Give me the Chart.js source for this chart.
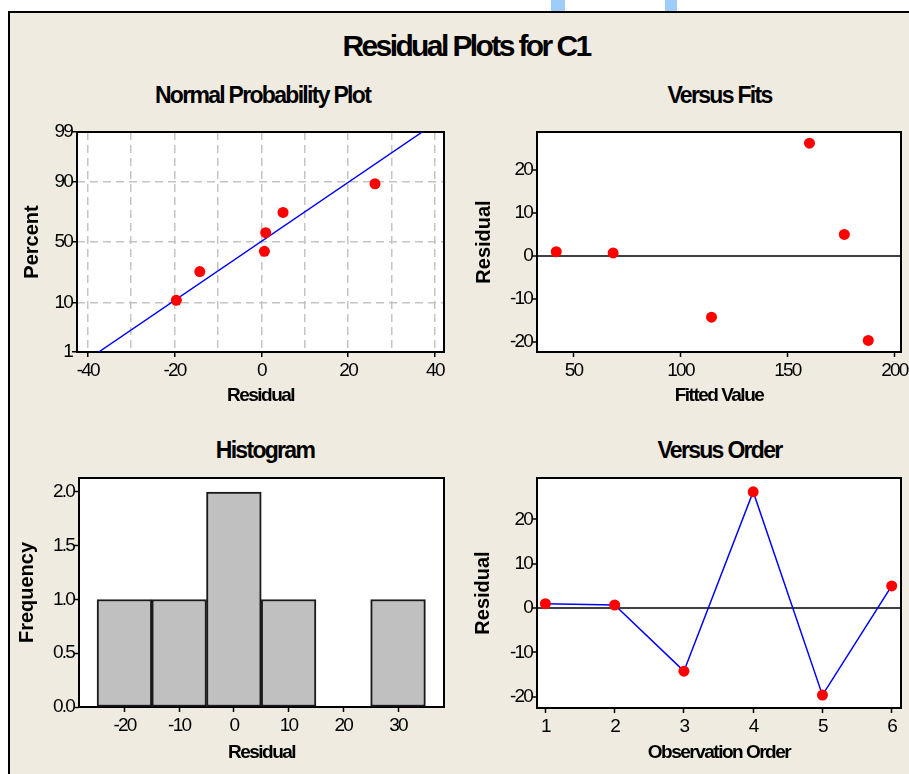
<!DOCTYPE html>
<html>
<head>
<meta charset="utf-8">
<script src="https://cdn.jsdelivr.net/npm/chart.js@4.4.1/dist/chart.umd.min.js"></script>
<style>
  html, body { margin: 0; padding: 0; background: #fff; width: 909px; height: 774px; overflow: hidden; }
  #frame { position: absolute; left: 8px; top: 11px; width: 920px; height: 780px;
           border-top: 2px solid #000; border-left: 2px solid #000; background: rgb(239,235,225); }
  .blob { position: absolute; top: 0; height: 11px; background: #9fcdfb; }
  .ttl { position: absolute; font-family: "Liberation Sans", Arial, sans-serif;
         font-weight: bold; color: #000; white-space: nowrap; text-align: center; }
  .main { font-size: 30px; line-height: 30px; letter-spacing: -2.6px; }
  .sub { font-size: 23px; line-height: 23px; letter-spacing: -1.7px; }
  canvas { position: absolute; }
</style>
</head>
<body>
<div class="blob" style="left:551px;width:14px;"></div>
<div class="blob" style="left:665px;width:12px;"></div>
<div id="frame"></div>

<div class="ttl main" style="left:266px;top:31.4px;width:400px;">Residual Plots for C1</div>
<div class="ttl sub" style="left:112.5px;top:84.3px;width:300px;">Normal Probability Plot</div>
<div class="ttl sub" style="left:569.5px;top:84.3px;width:300px;">Versus Fits</div>
<div class="ttl sub" style="left:115px;top:439.3px;width:300px;">Histogram</div>
<div class="ttl sub" style="left:569.5px;top:439.3px;width:300px;">Versus Order</div>

<canvas id="cNpp" width="455" height="300" style="left:0;top:110px;"></canvas>
<canvas id="cFits" width="449" height="300" style="left:460px;top:110px;"></canvas>
<canvas id="cHist" width="455" height="314" style="left:0;top:460px;"></canvas>
<canvas id="cOrder" width="449" height="314" style="left:460px;top:460px;"></canvas>

<script>
// ---------- ข้อมูล (อ่านจากภาพ) ----------
const observationOrder = [1, 2, 3, 4, 5, 6];
const residuals = [1.0, 0.7, -14.2, 26.2, -19.6, 5.0];
const fittedValues = [41.9, 68.5, 114.5, 160.3, 187.8, 176.6];
const probPercents = [10.9, 26.6, 42.2, 57.8, 73.4, 89.1];   // median rank ของ residual ที่เรียงแล้ว
const fitLineResidual = [-37.5, 37.1];
const fitLinePercent = [1, 99];
const histBinCenters = [-20, -10, 0, 10, 20, 30];
const histCounts = [1, 1, 2, 1, 0, 1];

// tick labels
const nppPercentTicks = [1, 10, 50, 90, 99];
const nppResidualTicks = [-40, -30, -20, -10, 0, 10, 20, 30, 40];
const fitsTicks = [50, 100, 150, 200];
const residualTicks = [-20, -10, 0, 10, 20];
const histXTicks = [-20, -10, 0, 10, 20, 30];
const freqTicks = [0, 0.5, 1.0, 1.5, 2.0];
const orderTicks = [1, 2, 3, 4, 5, 6];

const SANS = '"Liberation Sans", Arial, sans-serif';

// inverse normal CDF สำหรับแกน probability (Acklam)
function probit(p) {
  const a = [-39.69683028665376, 220.9460984245205, -275.9285104469687, 138.3577518672690, -30.66479806614716, 2.506628277459239];
  const b = [-54.47609879822406, 161.5858368580409, -155.6989798598866, 66.80131188771972, -13.28068155288572];
  const c = [-0.007784894002430293, -0.3223964580411365, -2.400758277161838, -2.549732539343734, 4.374664141464968, 2.938163982698783];
  const d = [0.007784695709041462, 0.3224671290700398, 2.445134137142996, 3.754408661907416];
  const plow = 0.02425;
  let q, r;
  if (p < plow) {
    q = Math.sqrt(-2 * Math.log(p));
    return (((((c[0]*q+c[1])*q+c[2])*q+c[3])*q+c[4])*q+c[5]) / ((((d[0]*q+d[1])*q+d[2])*q+d[3])*q+1);
  }
  if (p > 1 - plow) {
    q = Math.sqrt(-2 * Math.log(1 - p));
    return -(((((c[0]*q+c[1])*q+c[2])*q+c[3])*q+c[4])*q+c[5]) / ((((d[0]*q+d[1])*q+d[2])*q+d[3])*q+1);
  }
  q = p - 0.5; r = q * q;
  return (((((a[0]*r+a[1])*r+a[2])*r+a[3])*r+a[4])*r+a[5])*q / (((((b[0]*r+b[1])*r+b[2])*r+b[3])*r+b[4])*r+1);
}
const pz = pct => probit(pct / 100);

// ---------- helpers ----------
// ตัวอักษรของ Minitab ชิดกันมาก: ใส่ letterSpacing ให้ label/title ของแต่ละแกน
function tightText(scale, labelLS, titleLS) {
  if (scale.$tight) return;
  scale.$tight = true;
  const drawLabels = scale.drawLabels, drawTitle = scale.drawTitle;
  scale.drawLabels = function (area) {
    const old = this.ctx.letterSpacing; this.ctx.letterSpacing = labelLS;
    drawLabels.call(this, area); this.ctx.letterSpacing = old;
  };
  scale.drawTitle = function () {
    const old = this.ctx.letterSpacing; this.ctx.letterSpacing = titleLS;
    drawTitle.call(this); this.ctx.letterSpacing = old;
  };
}
// ล็อกขนาดกล่องแกนให้ plot area ตรงตำแหน่ง
function fixBox(size, titleLS) {
  return scale => {
    if (scale.isHorizontal()) scale.height = size; else scale.width = size;
    scale.paddingLeft = scale.paddingRight = scale.paddingTop = scale.paddingBottom = 0;
    tightText(scale, '-1.8px', titleLS);
  };
}
function useTicks(values) {
  return scale => { scale.ticks = values.map(v => ({ value: v })); };
}

const plotFrame = {
  id: 'plotFrame',
  beforeDraw(chart) {
    const { ctx, chartArea: a } = chart;
    ctx.save();
    ctx.fillStyle = '#fff';
    ctx.fillRect(a.left, a.top, a.right - a.left, a.bottom - a.top);
    ctx.restore();
  },
  beforeDatasetsDraw(chart) {
    const { ctx, chartArea: a } = chart;
    ctx.save();
    ctx.strokeStyle = '#000';
    ctx.lineWidth = 2;
    ctx.strokeRect(a.left, a.top, a.right - a.left, a.bottom - a.top);
    ctx.restore();
  }
};

const tickFont = { family: SANS, size: 19 };

function xAxis({ min, max, ticks, title, boxH, titlePadBottom, grid, label }) {
  return {
    type: 'linear', min, max, offset: false,
    afterFit: fixBox(boxH, '-1.5px'),
    afterBuildTicks: useTicks(ticks),
    border: { display: false, dash: grid && grid.dash ? grid.dash : [] },
    grid: Object.assign({ drawOnChartArea: false, offset: false, tickLength: 5, tickWidth: 1.5, tickColor: '#000' }, grid || {}),
    ticks: { font: tickFont, color: '#000', padding: 2, maxRotation: 0, autoSkip: false, callback: label || (v => String(v)) },
    title: { display: true, text: title, color: '#000', font: { family: SANS, size: 19, weight: 'bold' }, padding: { top: 0, bottom: titlePadBottom } }
  };
}
function yAxis({ min, max, ticks, title, boxW, titlePadTop, grid, label }) {
  return {
    type: 'linear', min, max,
    afterFit: fixBox(boxW, '0px'),
    afterBuildTicks: useTicks(ticks),
    border: { display: false, dash: grid && grid.dash ? grid.dash : [] },
    grid: Object.assign({ drawOnChartArea: false, tickLength: 5, tickWidth: 1.5, tickColor: '#000' }, grid || {}),
    ticks: { font: tickFont, color: '#000', padding: 0, autoSkip: false, callback: label || (v => String(v)) },
    title: { display: true, text: title, color: '#000', font: { family: SANS, size: 20, weight: 'bold' }, padding: { top: titlePadTop, bottom: 0 } }
  };
}

function baseOptions(pad, scales) {
  return {
    responsive: false, animation: false, devicePixelRatio: 1, events: [],
    layout: { padding: pad },
    plugins: { legend: { display: false }, tooltip: { enabled: false }, title: { display: false } },
    scales
  };
}

const redPoint = { backgroundColor: '#ff0000', borderWidth: 0, pointRadius: 5.5, pointBackgroundColor: '#ff0000', pointBorderWidth: 0 };
const zeroLine = {
  drawOnChartArea: true,
  color: ctx => (ctx.tick && ctx.tick.value === 0 ? '#404040' : 'rgba(0,0,0,0)'),
  lineWidth: 2
};

// ---------- Normal Probability Plot ----------
const sortedResiduals = [...residuals].sort((a, b) => a - b);
new Chart(document.getElementById('cNpp'), {
  type: 'scatter',
  data: {
    datasets: [
      Object.assign({ data: sortedResiduals.map((r, i) => ({ x: r, y: pz(probPercents[i]) })) }, redPoint),
      { data: fitLineResidual.map((r, i) => ({ x: r, y: pz(fitLinePercent[i]) })),
        showLine: true, borderColor: '#0000ff', borderWidth: 1.5, pointRadius: 0 }
    ]
  },
  options: baseOptions({ top: 22, right: 11, left: 0, bottom: 0 }, {
    x: xAxis({ min: -42.5, max: 42.1, ticks: nppResidualTicks, title: 'Residual', boxH: 58, titlePadBottom: 2.6,
      grid: { drawOnChartArea: true, color: '#c4c4c4', lineWidth: 1.5, dash: [8, 5],
              tickColor: ctx => (ctx.tick && ctx.tick.value % 20 === 0 ? '#000' : 'rgba(0,0,0,0)') },
      label: v => (v % 20 === 0 ? String(v) : '') }),
    y: yAxis({ min: pz(1), max: pz(99), ticks: nppPercentTicks.map(pz), title: 'Percent', boxW: 77, titlePadTop: 20.5,
      grid: { drawOnChartArea: true, color: '#c4c4c4', lineWidth: 1.5, dash: [8, 5] },
      label: (v, i) => String(nppPercentTicks[i]) })
  }),
  plugins: [plotFrame]
});

// ---------- Versus Fits ----------
new Chart(document.getElementById('cFits'), {
  type: 'scatter',
  data: {
    datasets: [Object.assign({ data: fittedValues.map((f, i) => ({ x: f, y: residuals[i] })) }, redPoint)]
  },
  options: baseOptions({ top: 22, right: 8, left: 0, bottom: 0 }, {
    x: xAxis({ min: 32.9, max: 203.1, ticks: fitsTicks, title: 'Fitted Value', boxH: 58, titlePadBottom: 2.6 }),
    y: yAxis({ min: -22.3, max: 28.8, ticks: residualTicks, title: 'Residual', boxW: 77, titlePadTop: 12, grid: zeroLine })
  }),
  plugins: [plotFrame]
});

// ---------- Histogram ----------
new Chart(document.getElementById('cHist'), {
  type: 'bar',
  data: {
    datasets: [{
      data: histBinCenters.map((c, i) => ({ x: c, y: histCounts[i] })),
      backgroundColor: '#c0c0c0', borderColor: '#1a1a1a', borderWidth: 2, borderSkipped: false,
      barPercentage: 1, categoryPercentage: 1
    }]
  },
  options: baseOptions({ top: 18, right: 11, left: 0, bottom: 0 }, {
    x: xAxis({ min: -28.3, max: 38.4, ticks: histXTicks, title: 'Residual', boxH: 67, titlePadBottom: 9.6 }),
    y: yAxis({ min: 0, max: 2.13, ticks: freqTicks, title: 'Frequency', boxW: 79, titlePadTop: 15.5,
      label: v => v.toFixed(1) })
  }),
  plugins: [plotFrame]
});

// ---------- Versus Order ----------
new Chart(document.getElementById('cOrder'), {
  type: 'scatter',
  data: {
    datasets: [
      Object.assign({ data: observationOrder.map((o, i) => ({ x: o, y: residuals[i] })) }, redPoint),
      { data: observationOrder.map((o, i) => ({ x: o, y: residuals[i] })),
        showLine: true, borderColor: '#0000ff', borderWidth: 1.5, pointRadius: 0 }
    ]
  },
  options: baseOptions({ top: 18, right: 8, left: 0, bottom: 0 }, {
    x: xAxis({ min: 0.879, max: 6.134, ticks: orderTicks, title: 'Observation Order', boxH: 66, titlePadBottom: 10.1 }),
    y: yAxis({ min: -22.5, max: 29.3, ticks: residualTicks, title: 'Residual', boxW: 77, titlePadTop: 11.5, grid: zeroLine })
  }),
  plugins: [plotFrame]
});
</script>
</body>
</html>
